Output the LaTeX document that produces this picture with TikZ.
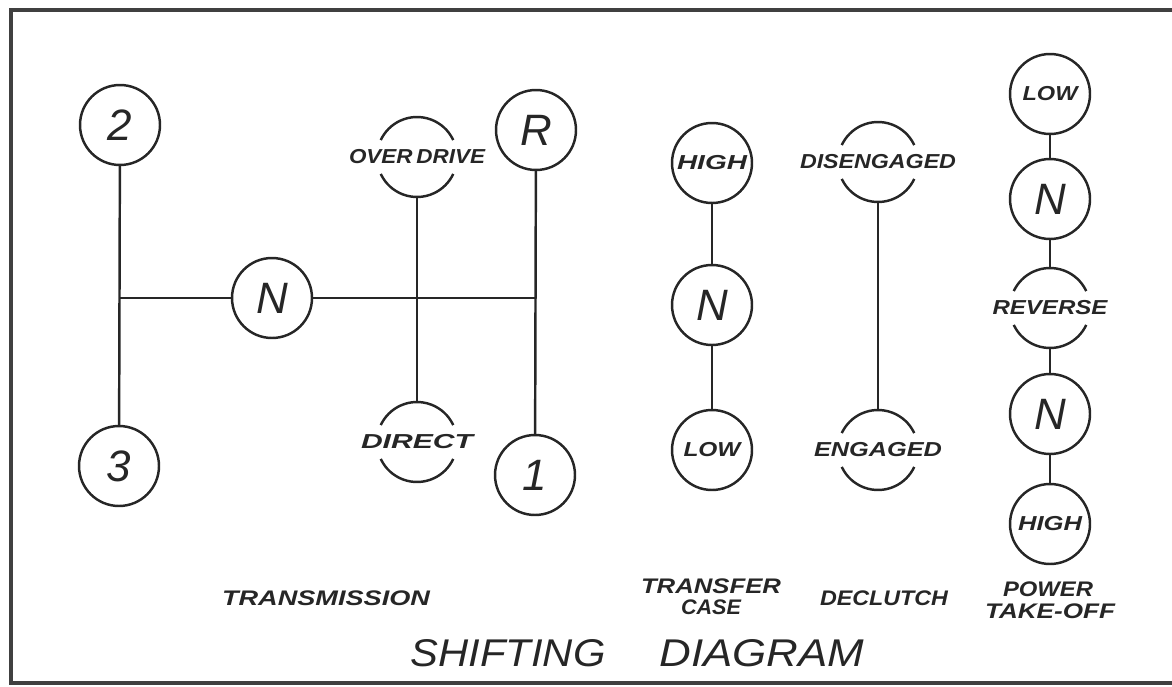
\documentclass[tikz,border=0pt]{standalone}
\usepackage{fontspec}
\setmainfont{Liberation Sans}
\usepackage{graphicx}
\tikzset{
  ink/.style={draw=black!85, line width=1.4pt},
  gear/.style={circle, ink, minimum size=1.6cm, inner sep=0pt, outer sep=0pt},
  slot/.style={circle, minimum size=1.6cm, inner sep=0pt, outer sep=0pt},
  link/.style={ink},
  small/.style={font=\fontsize{11.5}{12}\selectfont\bfseries\itshape, text=black!85, inner sep=0pt},
  big/.style={font=\fontsize{25}{26}\selectfont\itshape, text=black!85},
  caption/.style={font=\fontsize{12}{13}\selectfont\bfseries\itshape, text=black!85, inner sep=0pt},
  title/.style={font=\fontsize{22}{24}\selectfont\itshape, text=black!85, inner sep=0pt},
  frame/.style={draw=black!75, line width=1.8pt},
}
\newcommand\sw[2]{\resizebox{#1cm}{\height}{#2}}
\newcommand\brk[1]{%
  \draw[link] (#1.25) arc[start angle=25,end angle=155,radius=0.8cm];
  \draw[link] (#1.205) arc[start angle=205,end angle=335,radius=0.8cm];}
\begin{document}
\begin{tikzpicture}[x=0.02cm,y=-0.02cm]
\useasboundingbox (0,0) rectangle (1172,686);
\draw[frame] (1172,10) -- (11,10) -- (11,683) -- (1172,683);

% Transmission
\node[gear,big] (two) at (120,125) {2};
\node[gear,big] (three) at (119,466) {3};
\node[gear,big] (nt) at (272,298) {N};
\node[gear,big] (rev) at (536,130) {R};
\node[gear,big] (one) at (535,475) {1};
\node[slot, label={[small]center:\sw{2.72}{OVER\,DRIVE}}] (od) at (417,157) {};
\node[slot, label={[small]center:\sw{2.24}{DIRECT}}] (dir) at (417,442) {};
\brk{od}
\brk{dir}
\coordinate (jL) at (119,298);
\coordinate (jR) at (535,298);
\draw[link] (two) -- (three);
\draw[link] (jL) -- (nt);
\draw[link] (nt) -- (jR);
\draw[link] (rev) -- (one);
\draw[link] (od) -- (dir);

% Transfer case
\node[gear,small] (th) at (712,163) {\sw{1.4}{HIGH}};
\node[gear,big] (tn) at (712,305) {N};
\node[gear,small] (tl) at (712,450) {\sw{1.14}{LOW}};
\draw[link] (th) -- (tn);
\draw[link] (tn) -- (tl);

% Declutch
\node[slot, label={[small]center:\sw{3.12}{DISENGAGED}}] (dis) at (878,162) {};
\node[slot, label={[small]center:\sw{2.56}{ENGAGED}}] (eng) at (878,450) {};
\brk{dis}
\brk{eng}
\draw[link] (dis) -- (eng);

% Power take-off
\node[gear,small] (pl) at (1050,94) {\sw{1.1}{LOW}};
\node[gear,big] (pn1) at (1050,199) {N};
\node[slot, label={[small]center:\sw{2.3}{REVERSE}}] (prev) at (1050,308) {};
\brk{prev}
\node[gear,big] (pn2) at (1050,414) {N};
\node[gear,small] (ph) at (1050,524) {\sw{1.28}{HIGH}};
\draw[link] (pl) -- (pn1);
\draw[link] (pn1) -- (prev);
\draw[link] (prev) -- (pn2);
\draw[link] (pn2) -- (ph);

% Captions
\node[caption] (ltr) at (326,598) {\sw{4.16}{TRANSMISSION}};
\node[caption] (ltc1) at (711,586) {\sw{2.8}{TRANSFER}};
\node[caption] (ltc2) at (711,607) {\sw{1.2}{CASE}};
\node[caption] (ldc) at (884,598) {\sw{2.56}{DECLUTCH}};
\node[caption] (lp1) at (1048,589) {\sw{1.8}{POWER}};
\node[caption] (lp2) at (1050,611) {\sw{2.6}{TAKE-OFF}};
\node[title] (t1) at (508,653) {\sw{3.9}{SHIFTING}};
\node[title] (t2) at (762,653) {\sw{4.1}{DIAGRAM}};
\end{tikzpicture}
\end{document}
